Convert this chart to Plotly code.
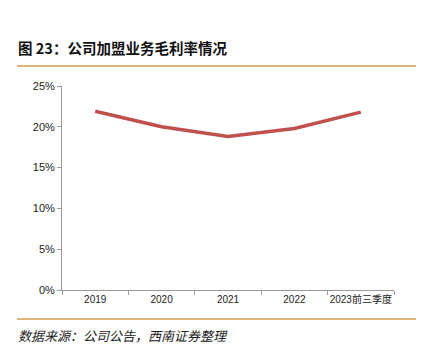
import plotly.graph_objects as go

categories = ["2019", "2020", "2021", "2022", "2023前三季度"]
margin_rate = [0.219, 0.200, 0.188, 0.198, 0.218]
y_ticks = [0, 0.05, 0.10, 0.15, 0.20, 0.25]
y_tick_labels = ["0%", "5%", "10%", "15%", "20%", "25%"]

title_text = "图 23：公司加盟业务毛利率情况"
source_text = "数据来源：公司公告，西南证券整理"

fig = go.Figure()
fig.add_trace(go.Scatter(
    x=categories, y=margin_rate, mode="lines",
    line=dict(color="#C0504D", width=3.5),
    hoverinfo="skip",
))

L, R, T, B = 62, 31, 86, 67
W, H = 425, 357
pw = W - L - R
ph = H - T - B

def px_x(px):
    return (px - L) / pw

def px_y(py):
    return (H - B - py) / ph

fig.update_layout(
    width=W, height=H,
    margin=dict(l=L, r=R, t=T, b=B),
    paper_bgcolor="white", plot_bgcolor="white",
    showlegend=False,
    font=dict(family="Liberation Sans, Arial, Noto Sans CJK SC", size=10, color="#222"),
    xaxis=dict(
        type="category", tickson="boundaries", ticks="outside", ticklen=4,
        range=[-0.5, len(categories) - 0.5], tickangle=0,
        tickcolor="#999", showline=True, linecolor="#999", linewidth=1,
        showgrid=False, zeroline=False,
        tickfont=dict(size=10, color="#222"),
    ),
    yaxis=dict(
        range=[0, 0.25], tickvals=y_ticks, ticktext=y_tick_labels,
        ticks="outside", ticklen=4, tickcolor="#999",
        showline=True, linecolor="#999", linewidth=1,
        showgrid=False, zeroline=False,
        tickfont=dict(size=11, color="#222"),
    ),
    shapes=[
        dict(type="line", xref="paper", yref="paper",
             x0=px_x(17), x1=px_x(416), y0=px_y(66), y1=px_y(66),
             line=dict(color="#D49A50", width=1.5)),
        dict(type="line", xref="paper", yref="paper",
             x0=px_x(17), x1=px_x(416), y0=px_y(319), y1=px_y(319),
             line=dict(color="#D49A50", width=1.5)),
    ],
    annotations=[
        dict(text="<b>" + title_text + "</b>", xref="paper", yref="paper",
             x=px_x(16), y=px_y(47), xanchor="left", yanchor="middle",
             showarrow=False,
             font=dict(family="Noto Sans CJK SC", size=14.5, color="#111")),
        dict(text="<i>" + source_text + "</i>", xref="paper", yref="paper",
             x=px_x(16), y=px_y(335), xanchor="left", yanchor="middle",
             showarrow=False,
             font=dict(family="Noto Sans CJK SC", size=13, color="#222")),
    ],
)

fig.write_html("out.html", config={"displayModeBar": False},
               post_script="document.body.style.margin='0';")
